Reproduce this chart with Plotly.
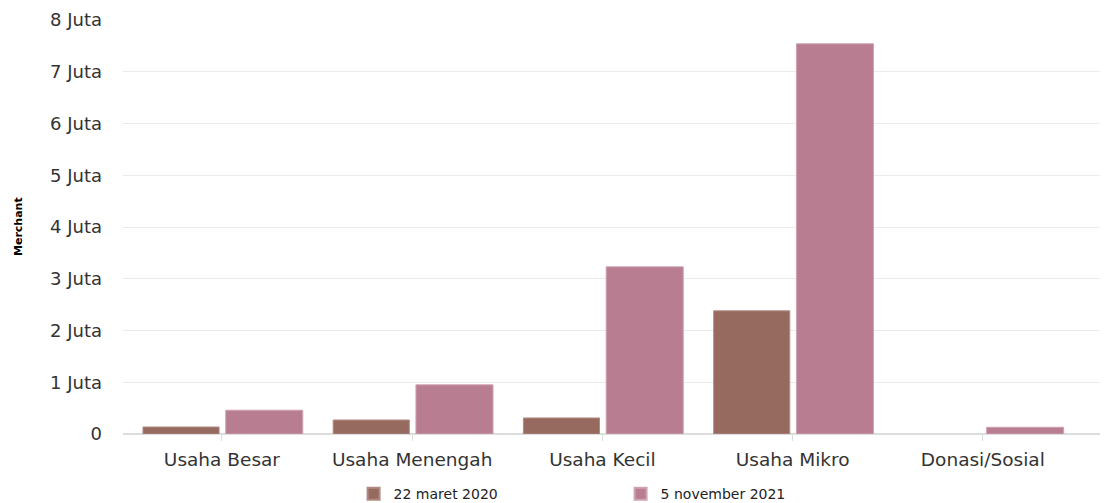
import plotly.graph_objects as go

categories = ["Usaha Besar", "Usaha Menengah", "Usaha Kecil", "Usaha Mikro", "Donasi/Sosial"]
series_2020 = [135000, 270000, 310000, 2380000, 0]
series_2021 = [460000, 950000, 3230000, 7540000, 130000]
series_names = ["22 maret 2020", "5 november 2021"]
tick_vals = [0, 1e6, 2e6, 3e6, 4e6, 5e6, 6e6, 7e6, 8e6]
tick_text = ["0", "1 Juta", "2 Juta", "3 Juta", "4 Juta", "5 Juta", "6 Juta", "7 Juta", "8 Juta"]

fig = go.Figure()
fig.add_trace(go.Bar(
    x=categories, y=series_2020, name=series_names[0],
    marker=dict(color="#976a60",
                line=dict(color="#b08a82", width=[1 if v > 0 else 0 for v in series_2020])),
    width=0.40, offset=-0.415,
))
fig.add_trace(go.Bar(
    x=categories, y=series_2021, name=series_names[1],
    marker=dict(color="#b87d91", line=dict(color="#cfa3b2", width=1)),
    width=0.405, offset=0.02,
))

W = 1108
L = 115
PW = W - L

fig.update_layout(
    width=W, height=495,
    margin=dict(l=L, r=0, t=12, b=69, autoexpand=False),
    paper_bgcolor="white", plot_bgcolor="white",
    font=dict(family="DejaVu Sans, Verdana, sans-serif", color="#333333", size=18),
    barmode="group",
    showlegend=True,
    legend=dict(orientation="h", x=(345.6 - L) / PW, xanchor="left", y=-0.145, yanchor="middle",
                font=dict(size=14, color="#222222"), entrywidth=222, entrywidthmode="pixels",
                itemsizing="constant"),
    xaxis=dict(
        type="category", range=[-0.52, 4.70], automargin=False,
        showgrid=False, ticks="outside", ticklen=6, tickcolor="#dddddd",
        tickfont=dict(size=18.5, color="#333333"), ticklabelstandoff=3,
        showline=False, zeroline=False,
    ),
    yaxis=dict(
        range=[0, 8e6], tickvals=tick_vals, ticktext=tick_text, automargin=False,
        showgrid=True, gridcolor="#ebebeb", gridwidth=1,
        zeroline=True, zerolinecolor="#dddddd", zerolinewidth=2,
        tickfont=dict(size=18, color="#333333"), ticklabelstandoff=20,
        showline=False,
    ),
    annotations=[dict(
        text="<b>Merchant</b>", x=-(L - 10) / PW, y=0.5, xref="paper", yref="paper",
        textangle=-90, showarrow=False, font=dict(size=11, color="#000000"),
        xanchor="center", yanchor="middle",
    )],
)

fig.write_html("out.html")
